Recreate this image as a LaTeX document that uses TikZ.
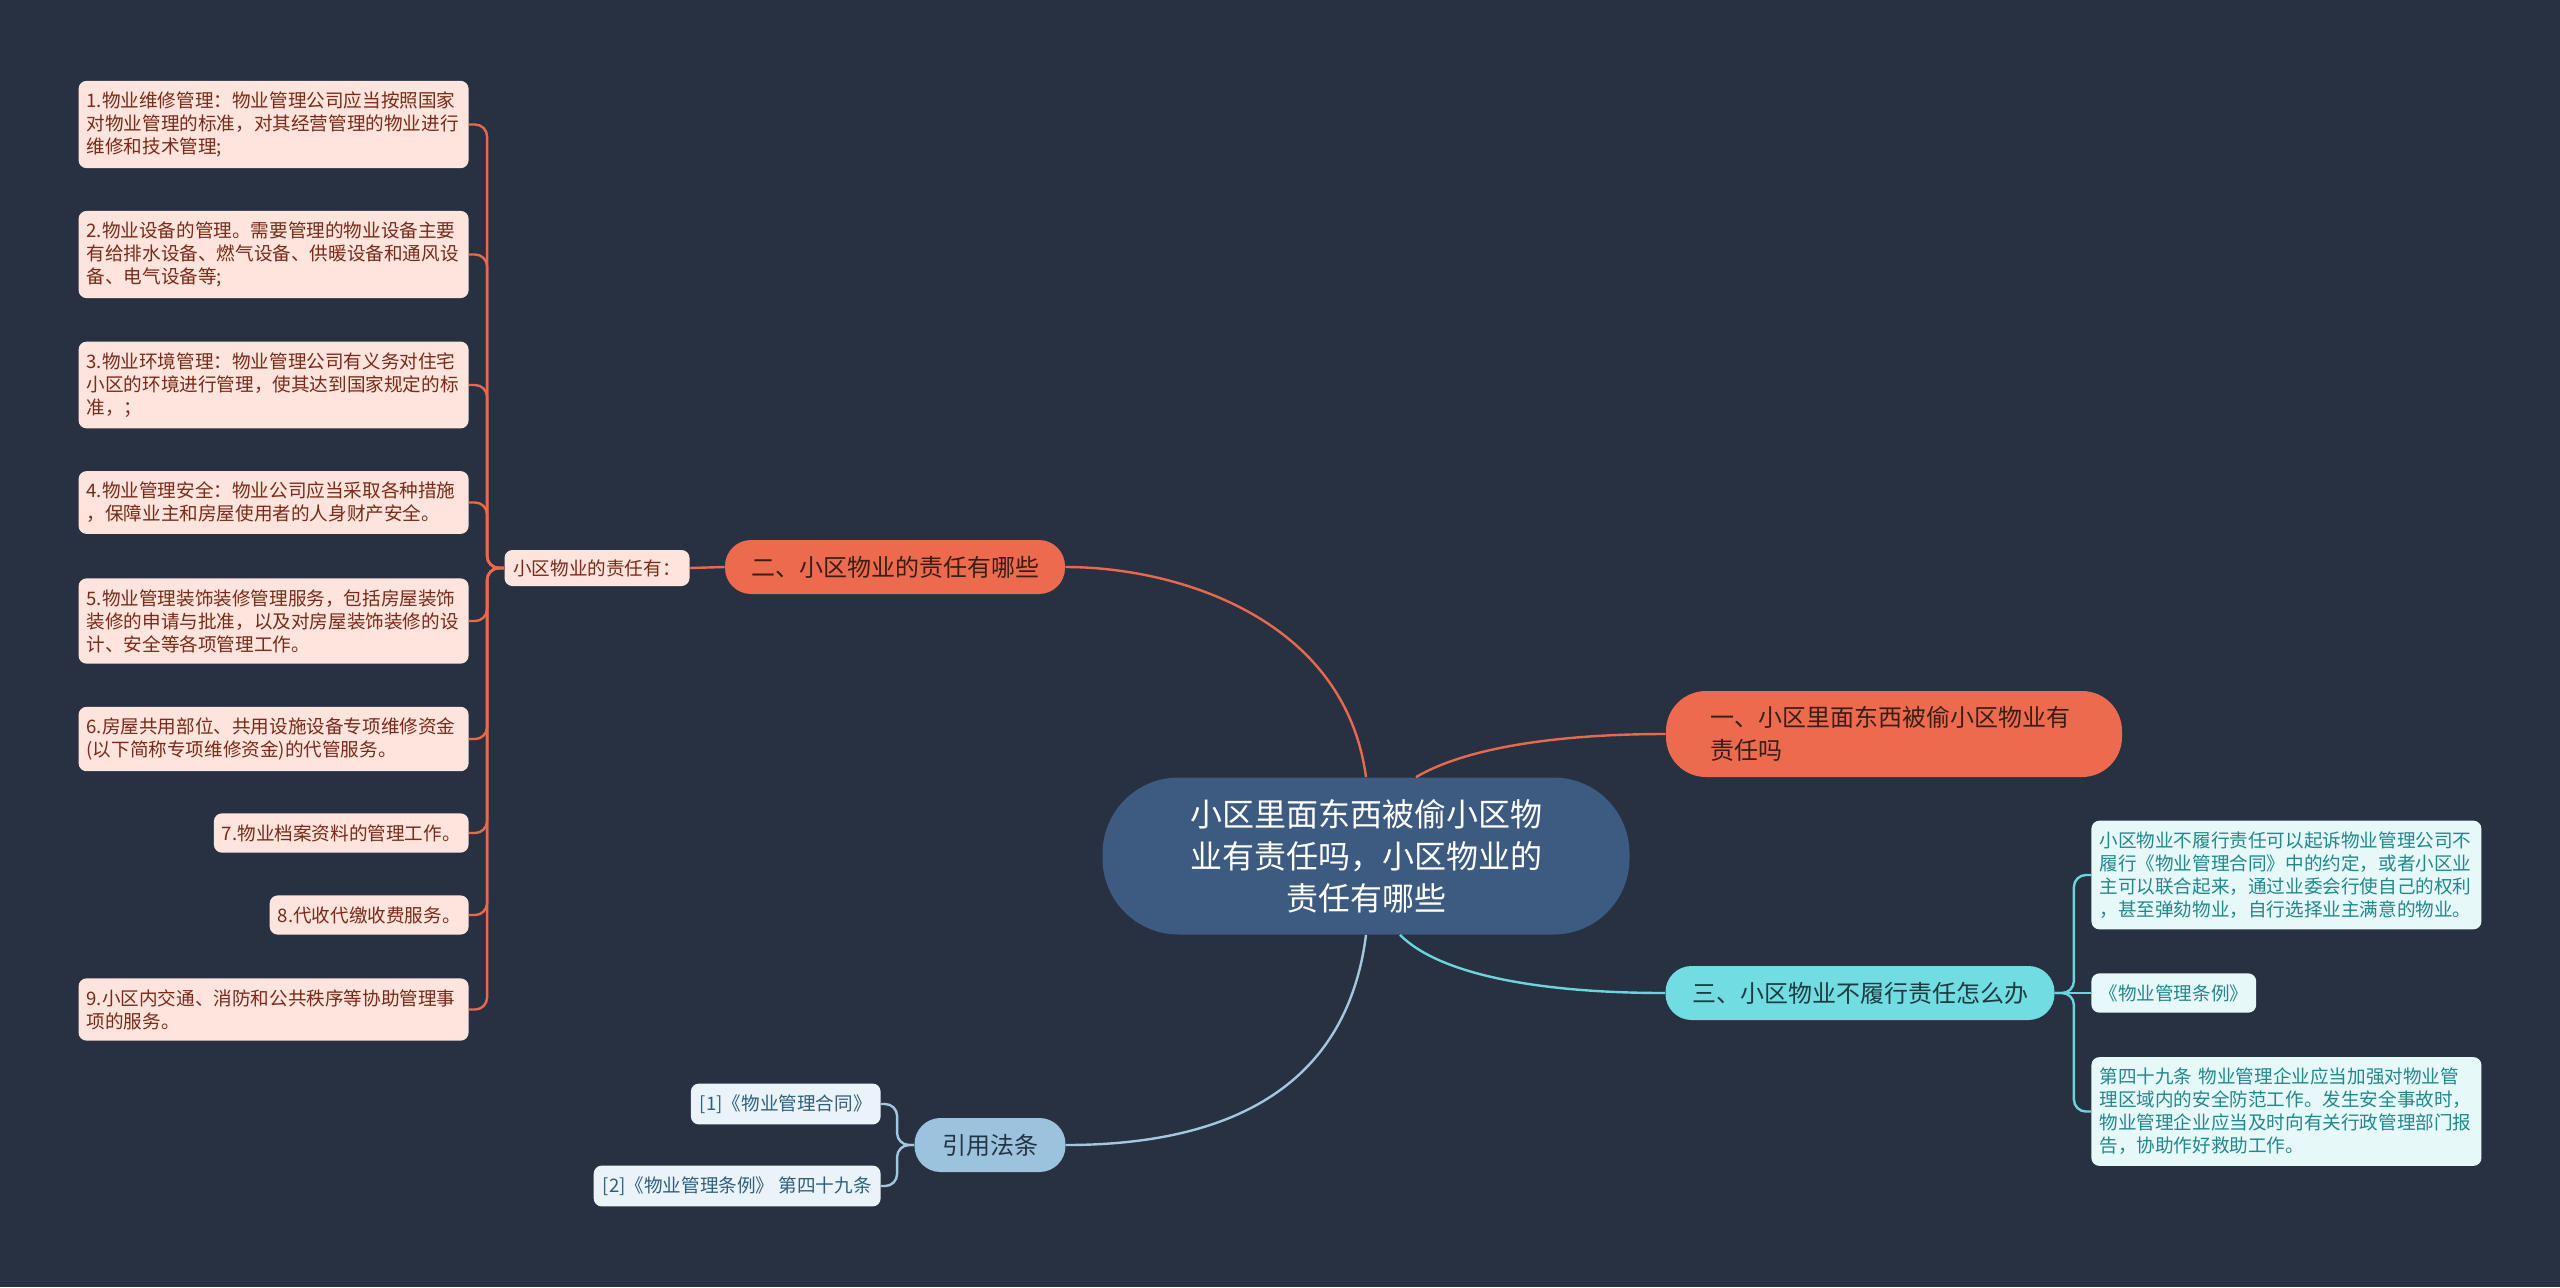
\documentclass[tikz,border=0pt]{standalone}
\usepackage{fontspec}
\usepackage{xcolor}
\usepackage{tikz}
\usetikzlibrary{calc}
\newfontfamily\cjk{Noto Sans CJK SC}
\definecolor{bgdark}{HTML}{283142}
\definecolor{rootblue}{HTML}{3D5A80}
\definecolor{mainorange}{HTML}{EC6B4E}
\definecolor{peach}{HTML}{FDE4DC}
\definecolor{peachtext}{HTML}{7A2A1A}
\definecolor{darktext}{HTML}{3A1E16}
\definecolor{maincyan}{HTML}{72DCE3}
\definecolor{cyandark}{HTML}{1D3B40}
\definecolor{cyanbox}{HTML}{E6F8F8}
\definecolor{cyantext}{HTML}{23878C}
\definecolor{steelblue}{HTML}{9CC3DE}
\definecolor{steeldark}{HTML}{263345}
\definecolor{refbox}{HTML}{EAF3F8}
\definecolor{reftext}{HTML}{2F5F7F}
\definecolor{orangeline}{HTML}{E8694C}
\definecolor{tealline}{HTML}{6AD5DD}
\definecolor{blueline}{HTML}{A5C6DF}

\tikzset{
  rootnode/.style={fill=rootblue, text=white, rounded corners=38pt, minimum width=263.5pt,
    minimum height=78.5pt, align=center, font=\cjk\fontsize{16}{21}\selectfont},
  topicnode/.style={rounded corners=13pt, minimum height=27pt, inner xsep=12pt,
    font=\cjk\fontsize{12}{16.5}\selectfont},
  leafnode/.style={rounded corners=4pt, inner xsep=4pt, inner ysep=5.5pt, align=left,
    font=\cjk\fontsize{9.3}{11.5}\selectfont},
  peachleaf/.style={leafnode, fill=peach, text=peachtext},
  cyanleaf/.style={leafnode, fill=cyanbox, text=cyantext},
  refleaf/.style={leafnode, fill=refbox, text=reftext},
  orangelink/.style={orangeline, line width=1.2pt},
  teallink/.style={tealline, line width=1.2pt},
  bluelink/.style={blueline, line width=1.2pt}
}

\begin{document}
\begin{tikzpicture}[x=0.5pt, y=-0.5pt]
    \fill[bgdark] (0,0) rectangle (2560,1287);
    \useasboundingbox (0,0) rectangle (2560,1287);

    % centre and main topics
    \node[rootnode] (root) at (1366,856) {小区里面东西被偷小区物\\业有责任吗，小区物业的\\责任有哪些};
    \node[topicnode, fill=mainorange, text=darktext, text width=184pt, align=left,
          inner xsep=22pt, minimum height=43pt, rounded corners=20pt] (sec1) at (1894,734)
          {一、小区里面东西被偷小区物业有\\责任吗};
    \node[topicnode, fill=mainorange, text=darktext, minimum width=170pt] (sec2) at (895,567) {二、小区物业的责任有哪些};
    \node[topicnode, fill=maincyan, text=cyandark, minimum width=194.5pt] (sec3) at (1860,993) {三、小区物业不履行责任怎么办};
    \node[topicnode, fill=steelblue, text=steeldark, minimum width=75.5pt] (refs) at (990,1145) {引用法条};

    \node[peachleaf, minimum width=92.5pt, minimum height=18pt, inner ysep=3pt] (sub) at (597,568) {小区物业的责任有：};

    % left leaves
    \node[peachleaf, anchor=east, text width=187pt] (lb1) at (469,124.5) {1.物业维修管理：物业管理公司应当按照国家\\对物业管理的标准，对其经营管理的物业进行\\维修和技术管理;};
    \node[peachleaf, anchor=east, text width=187pt] (lb2) at (469,254.5) {2.物业设备的管理。需要管理的物业设备主要\\有给排水设备、燃气设备、供暖设备和通风设\\备、电气设备等;};
    \node[peachleaf, anchor=east, text width=187pt] (lb3) at (469,385) {3.物业环境管理：物业管理公司有义务对住宅\\小区的环境进行管理，使其达到国家规定的标\\准，；};
    \node[peachleaf, anchor=east, text width=187pt] (lb4) at (469,502.5) {4.物业管理安全：物业公司应当采取各种措施\\，保障业主和房屋使用者的人身财产安全。};
    \node[peachleaf, anchor=east, text width=187pt] (lb5) at (469,621) {5.物业管理装饰装修管理服务，包括房屋装饰\\装修的申请与批准，以及对房屋装饰装修的设\\计、安全等各项管理工作。};
    \node[peachleaf, anchor=east, text width=187pt] (lb6) at (469,739) {6.房屋共用部位、共用设施设备专项维修资金\\(以下简称专项维修资金)的代管服务。};
    \node[peachleaf, anchor=east] (lb7) at (469,833) {7.物业档案资料的管理工作。};
    \node[peachleaf, anchor=east] (lb8) at (469,915) {8.代收代缴收费服务。};
    \node[peachleaf, anchor=east, text width=187pt] (lb9) at (469,1009.5) {9.小区内交通、消防和公共秩序等协助管理事\\项的服务。};

    % right leaves
    \node[cyanleaf, anchor=west, text width=187pt] (ra) at (2091,875) {小区物业不履行责任可以起诉物业管理公司不\\履行《物业管理合同》中的约定，或者小区业\\主可以联合起来，通过业委会行使自己的权利\\，甚至弹劾物业，自行选择业主满意的物业。};
    \node[cyanleaf, anchor=west] (rb) at (2091,993) {《物业管理条例》};
    \node[cyanleaf, anchor=west, text width=187pt] (rc) at (2091,1111.5) {第四十九条 物业管理企业应当加强对物业管\\理区域内的安全防范工作。发生安全事故时，\\物业管理企业应当及时向有关行政管理部门报\\告，协助作好救助工作。};

    % references
    \node[refleaf, anchor=east, inner xsep=4.5pt] (r1) at (881,1104) {[1]《物业管理合同》};
    \node[refleaf, anchor=east, inner xsep=4.5pt] (r2) at (881,1186) {[2]《物业管理条例》 第四十九条};

    % connectors
    \draw[orangelink] (root.north) .. controls (1345,620) and (1180,567) .. (sec2.east);
    \draw[orangelink] ([xshift=25pt]root.north) .. controls (1467,747) and (1560,734) .. (sec1.west);
    \draw[teallink] ([xshift=17pt]root.south) .. controls (1440,975) and (1540,993) .. (sec3.west);
    \draw[bluelink] (root.south) .. controls (1345,1100) and (1210,1145) .. (refs.east);
    \draw[orangelink] (sec2.west) -- (sub.east);
    \foreach \i in {1,...,9}
        \draw[orangelink, rounded corners=6pt] (sub.west) -- ++(-17,0) |- (lb\i.east);
    \foreach \n in {ra,rc}
        \draw[teallink, rounded corners=6pt] (sec3.east) -- ++(19,0) |- (\n.west);
    \draw[teallink] (sec3.east) -- (rb.west);
    \foreach \n in {r1,r2}
        \draw[bluelink, rounded corners=6pt] (refs.west) -- ++(-17,0) |- (\n.east);
\end{tikzpicture}
\end{document}
